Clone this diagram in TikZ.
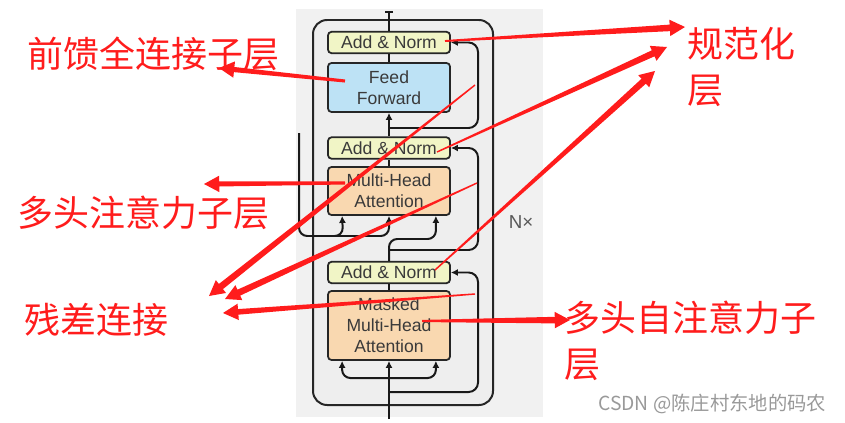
\documentclass[tikz,border=0pt]{standalone}
\usepackage{fontspec}
\setmainfont{Liberation Sans}
\newfontfamily\cjk{Noto Sans CJK SC}
\usetikzlibrary{arrows.meta, calc, positioning}

\definecolor{panelgray}{HTML}{F1F1F1}
\definecolor{stackgray}{HTML}{EEEEEE}
\definecolor{normyellow}{HTML}{F1F5C6}
\definecolor{ffblue}{HTML}{BDE2F5}
\definecolor{attnorange}{HTML}{F9D8B0}
\definecolor{annored}{HTML}{FF1C1C}
\definecolor{boxtext}{HTML}{3A3A3A}

% tapered red annotation arrow: tail, tip, tail half width, body half width
\newcommand\annoarrow[4]{%
  \path ($(#2)!13pt!(#1)$) coordinate (hb);
  \fill[annored] ($(#1)!#3!90:(#2)$) -- ($(hb)!#4!-90:(#1)$) -- ($(hb)!7pt!-90:(#1)$) -- (#2)
    -- ($(hb)!7pt!90:(#1)$) -- ($(hb)!#4!90:(#1)$) -- ($(#1)!#3!-90:(#2)$) -- cycle;
}

\begin{document}
\begin{tikzpicture}[
    x=0.03cm, y=-0.03cm,
    sublayer/.style={
        rectangle,
        draw=black!85,
        line width=1.5pt,
        rounded corners=3pt,
        minimum width=3.66cm,
        inner sep=0pt,
        align=center,
        text=boxtext,
        font=\fontsize{15}{18}\selectfont
    },
    addnorm/.style={sublayer, fill=normyellow, minimum height=0.64cm},
    wire/.style={draw=black!90, line width=1.7pt},
    annotext/.style={
        text=annored,
        font=\cjk\fontsize{30.7}{39.2}\selectfont,
        inner sep=0pt,
        align=left,
        anchor=west
    },
    >={Latex[length=6pt,width=6pt]}
]

\useasboundingbox (0,0) rectangle (845,422);
\fill[panelgray] (296,9) rectangle (543,417);
\draw[line width=1.7pt, draw=black!85, fill=stackgray, rounded corners=12pt] (313,20) rectangle (493,405);

% decoder layer
\node[addnorm] (norm1) at (389,42.5) {Add \& Norm};
\node[sublayer, fill=ffblue, minimum height=1.47cm] (ffn) at (389,87.5) {Feed\\Forward};
\node[addnorm] (norm2) at (389,148) {Add \& Norm};
\node[sublayer, fill=attnorange, minimum height=1.44cm] (mha) at (389,191) {Multi-Head\\Attention};
\node[addnorm] (norm3) at (389,272.5) {Add \& Norm};
\node[sublayer, fill=attnorange, minimum height=2.07cm] (masked) at (389,325.5) {Masked\\Multi-Head\\Attention};
\node[text=black!65, font=\fontsize{16}{16}\selectfont] (nx) at (521,222) {N×};

\coordinate (out) at (389,11);
\coordinate (in) at (389,419);
\coordinate (enc) at (299,133);
\coordinate (ffsplit) at (389,128);
\coordinate (mhasplit) at (389,250);
\coordinate (qsplit) at (389,378);
\coordinate (masksplit) at (389,392);

\draw[wire, -{Bar[width=6pt]}] (norm1.north) -- (out);
\draw[wire] (ffn.north) -- (norm1.south);
\draw[wire, ->] (norm2.north) -- (ffn.south);
\draw[wire, ->, rounded corners=8pt] (ffsplit) -| (478,42.5) -- (norm1.east);
\draw[wire] (mha.north) -- (norm2.south);
\draw[wire, ->, rounded corners=8pt] (mhasplit) -| (478,148) -- (norm2.east);
\draw[wire, ->, rounded corners=7pt] (norm3.north) |- (420,239) -| ($(mha.south east)+(-15,0)$);
\draw[wire, ->, rounded corners=7pt] (enc) |- (343,236) -- ($(mha.south west)+(15,0)$);
\draw[wire, ->, rounded corners=7pt] (330,236) -| (mha.south);
\draw[wire] (masked.north) -- (norm3.south);
\draw[wire, ->, rounded corners=8pt] (masksplit) -| (478,272.5) -- (norm3.east);
\draw[wire, ->] (in) -- (masked.south);
\draw[wire, ->, rounded corners=7pt] (qsplit) -| ($(masked.south west)+(15,0)$);
\draw[wire, ->, rounded corners=7pt] (qsplit) -| ($(masked.south east)+(-15,0)$);

% annotations
\node[annotext] (ffnlabel) at (27,54) {前馈全连接子层};
\node[annotext] (mhalabel) at (17,213) {多头注意力子层};
\node[annotext] (reslabel) at (24,320) {残差连接};
\node[annotext] (normlabel) at (687,67) {规范化\\层};
\node[annotext] (selflabel) at (564,341) {多头自注意力子\\层};
\node[text=black!40, font=\cjk\fontsize{16.5}{16.5}\selectfont, anchor=west, inner sep=0pt] (mark) at (598,404) {CSDN @陈庄村东地的码农};

\coordinate (fftail) at (345,81);
\coordinate (fftip) at (219,68);
\coordinate (n1tail) at (445,41);
\coordinate (n1tip) at (685,27);
\coordinate (n2tail) at (437,152);
\coordinate (n2tip) at (667,47);
\coordinate (n3tail) at (435,270);
\coordinate (n3tip) at (655,71);
\coordinate (mhatail) at (345,183);
\coordinate (mhatip) at (204,184);
\coordinate (r1tail) at (475,85);
\coordinate (r1tip) at (209,296);
\coordinate (r2tail) at (477,183);
\coordinate (r2tip) at (225,299);
\coordinate (r3tail) at (475,294);
\coordinate (r3tip) at (223,313);
\coordinate (mtail) at (422,321);
\coordinate (mtip) at (570,320);

\annoarrow{fftail}{fftip}{1.3pt}{2.2pt}
\annoarrow{n1tail}{n1tip}{0.8pt}{2.8pt}
\annoarrow{n2tail}{n2tip}{0.6pt}{2.8pt}
\annoarrow{n3tail}{n3tip}{0.6pt}{2.8pt}
\annoarrow{mhatail}{mhatip}{1.3pt}{2.2pt}
\annoarrow{r1tail}{r1tip}{0.6pt}{2.8pt}
\annoarrow{r2tail}{r2tip}{0.6pt}{2.8pt}
\annoarrow{r3tail}{r3tip}{0.6pt}{2.4pt}
\annoarrow{mtail}{mtip}{0.9pt}{2.8pt}

\end{tikzpicture}
\end{document}
